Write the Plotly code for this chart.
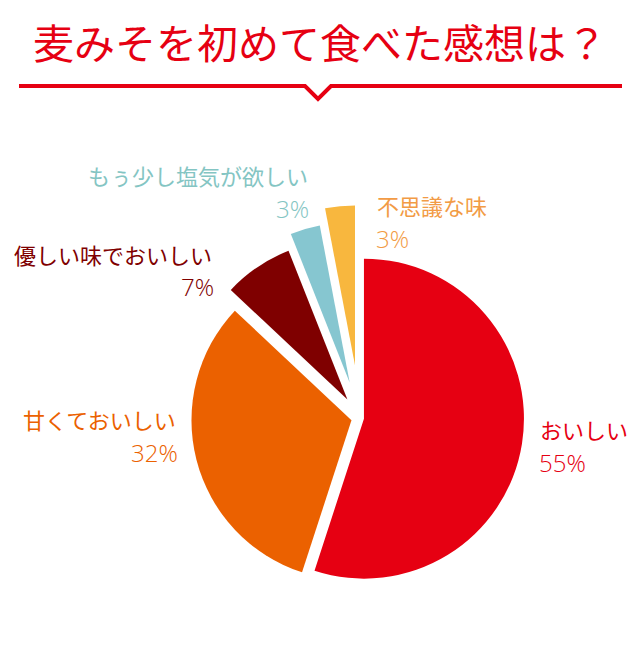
import plotly.graph_objects as go

W, H = 640, 670

# Data
categories = ["おいしい", "甘くておいしい", "優しい味でおいしい", "もぅ少し塩気が欲しい", "不思議な味"]
values = [55, 32, 7, 3, 3]
pct_labels = ["55%", "32%", "7%", "3%", "3%"]
pulls = [0.025, 0.055, 0.14, 0.23, 0.33]
slice_colors = ["#e60012", "#eb6100", "#7f0000", "#86c6d0", "#f8b73e"]
label_colors = ["#e60012", "#eb6100", "#7f0000", "#84c5c3", "#f29b45"]
title_text = "麦みそを初めて食べた感想は？"

def px(x):
    return x / W

def py(y):
    return 1 - y / H

# pie geometry (pixels)
cx, cy, r = 360, 418, 160
half = r * (1 + max(pulls))

fig = go.Figure(go.Pie(
    labels=categories,
    values=values,
    pull=pulls,
    sort=False,
    direction="clockwise",
    rotation=0,
    marker=dict(colors=slice_colors, line=dict(color="white", width=0)),
    textinfo="none",
    hoverinfo="label+percent",
    showlegend=False,
    domain=dict(x=[px(cx - half), px(cx + half)], y=[py(cy + half), py(cy - half)]),
))

jp = "Noto Sans CJK JP"
num_font = "Open Sans"

# label positions: (name_x, name_y, name_anchor, pct_x, pct_y, pct_anchor)
label_pos = [
    (538, 429, "left", 537, 462, "left"),
    (178, 419, "right", 180, 452, "right"),
    (12, 254, "left", 216, 287, "right"),
    (310, 175, "right", 311, 208, "right"),
    (375, 205, "left", 374, 238, "left"),
]

annotations = []
for cat, pct, col, (nx, ny, na, qx, qy, qa) in zip(categories, pct_labels, label_colors, label_pos):
    annotations.append(dict(text=cat, x=px(nx), y=py(ny), xref="paper", yref="paper",
                            xanchor=na, yanchor="middle", showarrow=False,
                            font=dict(family=jp, size=22, color=col)))
    annotations.append(dict(text=pct, x=px(qx), y=py(qy), xref="paper", yref="paper",
                            xanchor=qa, yanchor="middle", showarrow=False,
                            font=dict(family=num_font, size=24, color=col, weight=300)))

annotations.append(dict(text=title_text, x=0.5, y=py(41), xref="paper", yref="paper",
                        xanchor="center", yanchor="middle", showarrow=False,
                        font=dict(family=jp, size=41, color="#e60012")))

# header line with V notch
pts = [(19, 86), (305, 86), (318, 99), (331, 86), (622, 86)]
path = "M " + " L ".join(f"{px(x)},{py(y)}" for x, y in pts)
shapes = [dict(type="path", path=path, xref="paper", yref="paper",
               line=dict(color="#e60012", width=4))]

fig.update_layout(
    width=W, height=H,
    margin=dict(l=0, r=0, t=0, b=0),
    paper_bgcolor="white", plot_bgcolor="white",
    annotations=annotations,
    shapes=shapes,
)

fig.write_html("out.html")
